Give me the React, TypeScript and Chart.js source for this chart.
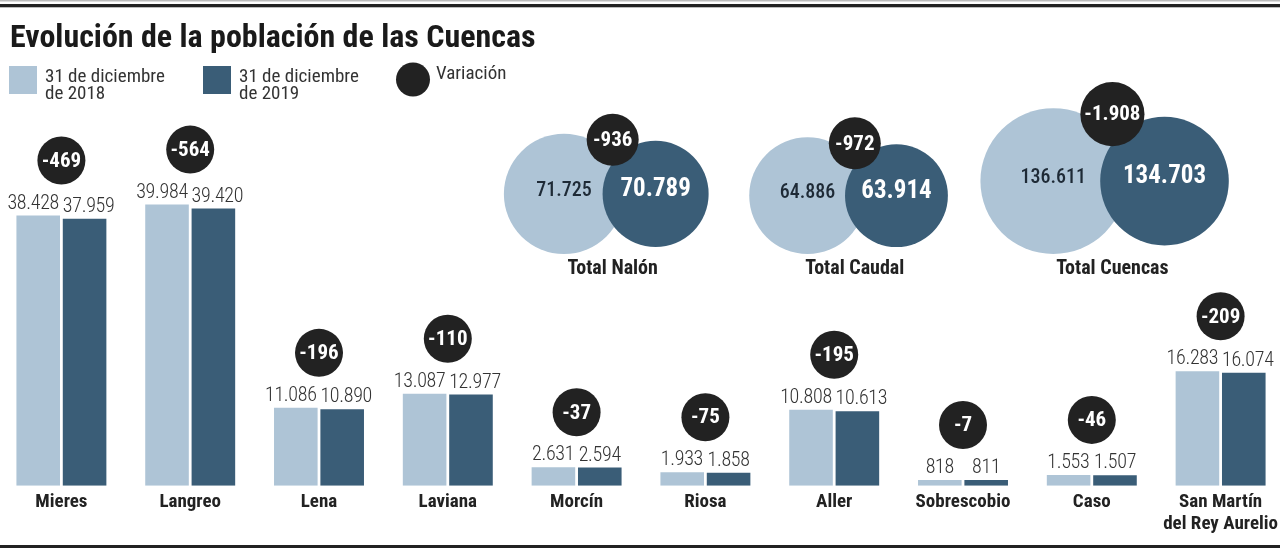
import React, { useEffect, useRef } from 'react';
import { Chart, registerables } from 'chart.js';

Chart.register(...registerables);

// ---------- data ----------
const title = 'Evolución de la población de las Cuencas';
const municipalities: (string | string[])[] = [
  'Mieres', 'Langreo', 'Lena', 'Laviana', 'Morcín', 'Riosa', 'Aller', 'Sobrescobio', 'Caso',
  ['San Martín', 'del Rey Aurelio'],
];
const population2018 = [38428, 39984, 11086, 13087, 2631, 1933, 10808, 818, 1553, 16283];
const population2019 = [37959, 39420, 10890, 12977, 2594, 1858, 10613, 811, 1507, 16074];
const variation = [-469, -564, -196, -110, -37, -75, -195, -7, -46, -209];

const totalLabels = ['Total Nalón', 'Total Caudal', 'Total Cuencas'];
const totals2018 = [71725, 64886, 136611];
const totals2019 = [70789, 63914, 134703];
const totalsVariation = [-936, -972, -1908];

const legend2018 = ['31 de diciembre', 'de 2018'];
const legend2019 = ['31 de diciembre', 'de 2019'];
const legendVariation = 'Variación';

// ---------- style ----------
const LIGHT = '#aec4d6';
const DARK = '#3a5d77';
const BLACK = '#222222';
const FONT = "'Roboto Condensed', 'Liberation Sans Narrow', 'DejaVu Sans Condensed', Roboto, sans-serif";
const OX = 3; // canvas is shifted 3px left of the page

const fmt = (n: number) => {
  const s = Math.abs(n).toString().replace(/\B(?=(\d{3})+(?!\d))/g, '.');
  return (n < 0 ? '-' : '') + s;
};

const decorPlugin = {
  id: 'decor',
  afterDatasetsDraw(chart: any) {
    const ctx: any = chart.ctx;
    const m0 = chart.getDatasetMeta(0);
    const m1 = chart.getDatasetMeta(1);
    ctx.save();

    // value labels above bars (pushed apart when they would collide)
    ctx.fillStyle = '#333';
    ctx.font = `300 20px ${FONT}`;
    ctx.letterSpacing = '-0.3px';
    ctx.textAlign = 'center';
    ctx.textBaseline = 'alphabetic';
    m0.data.forEach((bar: any, i: number) => {
      const t = fmt(population2018[i]);
      const w = ctx.measureText(t).width;
      const x = Math.min(bar.x, bar.x + bar.width / 2 - 1 - w / 2);
      ctx.fillText(t, x, bar.y - 7);
    });
    m1.data.forEach((bar: any, i: number) => {
      const t = fmt(population2019[i]);
      const w = ctx.measureText(t).width;
      const x = Math.max(bar.x, bar.x - bar.width / 2 + w / 2);
      ctx.fillText(t, x, bar.y - 7);
    });
    ctx.letterSpacing = '0px';

    // variation circles
    m0.data.forEach((bar: any, i: number) => {
      const b2 = m1.data[i];
      const top = Math.min(bar.y, b2.y);
      const cx = (bar.x + b2.x) / 2;
      const cy = top - 55;
      ctx.beginPath();
      ctx.arc(cx, cy, 24, 0, Math.PI * 2);
      ctx.fillStyle = BLACK;
      ctx.fill();
      ctx.fillStyle = '#fff';
      ctx.font = `bold 21px ${FONT}`;
      ctx.textBaseline = 'middle';
      ctx.fillText(fmt(variation[i]), cx, cy + 1);
      ctx.textBaseline = 'alphabetic';
    });

    // Venn totals
    const xs = chart.scales.x;
    const anchors = [4.28, 6.16, 8.16];
    const bottom = 254;
    totalLabels.forEach((lab, g) => {
      const G = xs.getPixelForValue(anchors[g]);
      const rL = 2.1 * Math.pow(totals2018[g], 0.3);
      const rD = 1.86 * Math.pow(totals2019[g], 0.3);
      const cy = bottom - rL;
      const cxL = G - 0.81 * rL;
      const cxD = G + 0.81 * rD;
      ctx.beginPath();
      ctx.arc(cxL, cy, rL, 0, Math.PI * 2);
      ctx.fillStyle = LIGHT;
      ctx.fill();
      ctx.beginPath();
      ctx.arc(cxD, cy, rD, 0, Math.PI * 2);
      ctx.fillStyle = DARK;
      ctx.fill();

      ctx.textAlign = 'center';
      ctx.textBaseline = 'middle';
      ctx.font = `500 20px ${FONT}`;
      ctx.fillStyle = '#1e2a36';
      ctx.fillText(fmt(totals2018[g]), cxL, cy - 3);
      ctx.font = `bold 25px ${FONT}`;
      ctx.fillStyle = '#fff';
      ctx.fillText(fmt(totals2019[g]), cxD, cy - 4);

      ctx.font = `bold 21px ${FONT}`;
      const tw = ctx.measureText(fmt(totalsVariation[g])).width;
      const rv = Math.max(26, tw / 2 + 4);
      const vy = cy - rL + 6;
      ctx.beginPath();
      ctx.arc(G, vy, rv, 0, Math.PI * 2);
      ctx.fillStyle = BLACK;
      ctx.fill();
      ctx.fillStyle = '#fff';
      ctx.fillText(fmt(totalsVariation[g]), G, vy + 1);

      ctx.font = `bold 20px ${FONT}`;
      ctx.fillStyle = BLACK;
      ctx.fillText(lab, G, 269);
    });
    ctx.restore();
  },
  afterDraw(chart: any) {
    const ctx: CanvasRenderingContext2D = chart.ctx;
    const W = chart.width;
    ctx.save();
    // frame lines
    ctx.fillStyle = '#bbbbbb';
    ctx.fillRect(0, 0, W, 1.5);
    ctx.fillStyle = BLACK;
    ctx.fillRect(0, 4, W, 3.3);
    ctx.fillRect(0, 545, W, 3);

    // title
    ctx.fillStyle = '#1a1a1a';
    ctx.font = `bold 32px ${FONT}`;
    ctx.textAlign = 'left';
    ctx.textBaseline = 'alphabetic';
    ctx.fillText(title, 10 + OX, 47);

    // legend
    const c0 = chart.data.datasets[0].backgroundColor;
    const c1 = chart.data.datasets[1].backgroundColor;
    ctx.fillStyle = c0;
    ctx.fillRect(9 + OX, 66, 28, 28);
    ctx.fillStyle = c1;
    ctx.fillRect(203 + OX, 66, 28, 28);
    ctx.beginPath();
    ctx.arc(413 + OX, 79.5, 17, 0, Math.PI * 2);
    ctx.fillStyle = BLACK;
    ctx.fill();

    ctx.fillStyle = '#333';
    ctx.font = `19px ${FONT}`;
    legend2018.forEach((t, i) => ctx.fillText(t, 45 + OX, 81.5 + i * 17.5));
    legend2019.forEach((t, i) => ctx.fillText(t, 239 + OX, 81.5 + i * 17.5));
    ctx.fillText(legendVariation, 436 + OX, 79);
    ctx.restore();
  },
};

export default function App() {
  const ref = useRef<HTMLCanvasElement>(null);
  useEffect(() => {
    if (!ref.current) return;
    const chart = new Chart(ref.current, {
      type: 'bar',
      data: {
        labels: municipalities as any,
        datasets: [
          {
            label: '31 de diciembre de 2018',
            data: population2018,
            backgroundColor: LIGHT,
            barPercentage: 0.94,
            categoryPercentage: 0.72,
          },
          {
            label: '31 de diciembre de 2019',
            data: population2019,
            backgroundColor: DARK,
            barPercentage: 0.94,
            categoryPercentage: 0.72,
          },
        ],
      },
      options: {
        responsive: false,
        animation: false,
        layout: { padding: { left: 0, right: 0, top: 99, bottom: 6.5 } },
        plugins: { legend: { display: false }, tooltip: { enabled: false }, title: { display: false } },
        scales: {
          x: {
            grid: { display: false, drawTicks: false },
            border: { display: false },
            ticks: {
              color: BLACK,
              font: { family: FONT, weight: 'bold', size: 19, lineHeight: 1.15 },
              padding: 6,
              maxRotation: 0,
              autoSkip: false,
            },
          },
          y: { display: false, min: 0, max: 55000 },
        },
      },
      plugins: [decorPlugin],
    });
    return () => chart.destroy();
  }, []);
  return (
    <div style={{ position: 'absolute', left: 0, top: 0, width: 1280, height: 548, overflow: 'hidden', background: '#fff' }}>
      <canvas ref={ref} width={1288} height={548} style={{ display: 'block', marginLeft: -OX }} />
    </div>
  );
}
